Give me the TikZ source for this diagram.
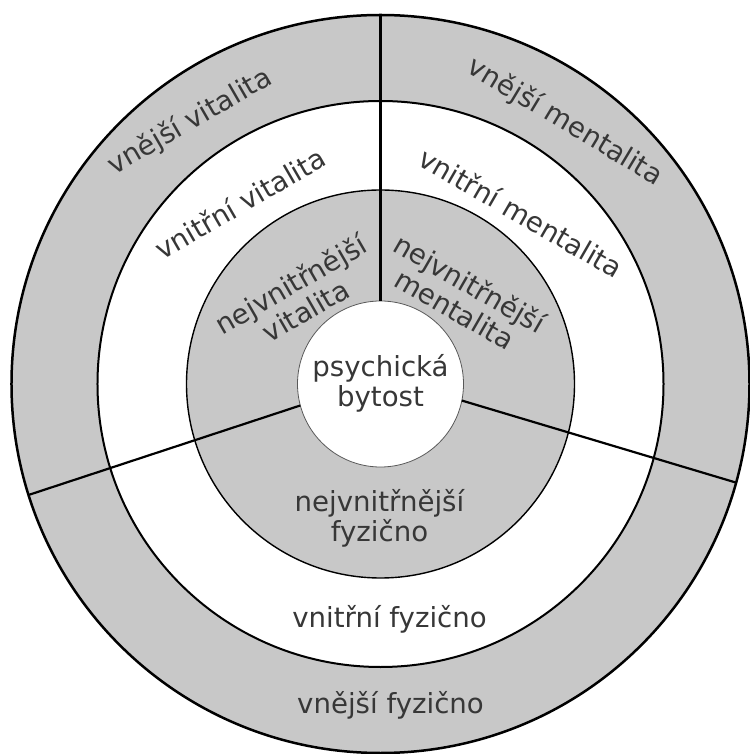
\documentclass[tikz,border=0pt]{standalone}
\usepackage{fontspec}
\setmainfont{DejaVu Sans}

\definecolor{ringgray}{RGB}{200,200,200}
\definecolor{textgray}{RGB}{55,55,55}

\tikzset{
    ringtext/.style={text=textgray, align=center, inner sep=0pt,
        font=\fontsize{27.6}{30}\selectfont},
    divider/.style={line width=2.2pt, black},
}

\begin{document}
\begin{tikzpicture}[x=1pt,y=1pt]
    \useasboundingbox (-380.5,-370) rectangle (368.5,384);

    \coordinate (c) at (0,0);

    % rings, outside in
    \fill[ringgray] (c) circle (369pt);
    \fill[white] (c) circle (283pt);
    \fill[ringgray] (c) circle (194pt);
    \fill[white] (c) circle (83pt);

    \draw[line width=2.5pt] (c) circle (369pt);
    \draw[line width=2pt] (c) circle (283pt);
    \draw[line width=1.4pt] (c) circle (194pt);
    \draw[line width=0.8pt, black!65] (c) circle (83pt);

    % three sectors
    \draw[divider] (90:83) -- (90:369);
    \draw[divider] (195:83) -- (197.5:369);
    \draw[divider] (348.5:83) -- (344.5:369);

    \node[ringtext] (psy) at (0,1) {psychická\\bytost};

    \node[ringtext] (fyz1) at (-1,-134) {nejvnitřnější\\fyzično};
    \node[ringtext] (fyz2) at (9,-235) {vnitřní fyzično};
    \node[ringtext] (fyz3) at (10,-321) {vnější fyzično};

    \node[ringtext, rotate=30] (vit1) at (-82.5,87) {nejvnitřnější\\vitalita};
    \node[ringtext, rotate=30] (vit2) at (-140.5,181) {vnitřní vitalita};
    \node[ringtext, rotate=30] (vit3) at (-190.5,262) {vnější vitalita};

    \node[ringtext, rotate=-30] (men1) at (82,88) {nejvnitřnější\\mentalita};
    \node[ringtext, rotate=-30] (men2) at (140.5,171.5) {vnitřní mentalita};
    \node[ringtext, rotate=-31] (men3) at (184.5,262) {vnější mentalita};
\end{tikzpicture}
\end{document}
